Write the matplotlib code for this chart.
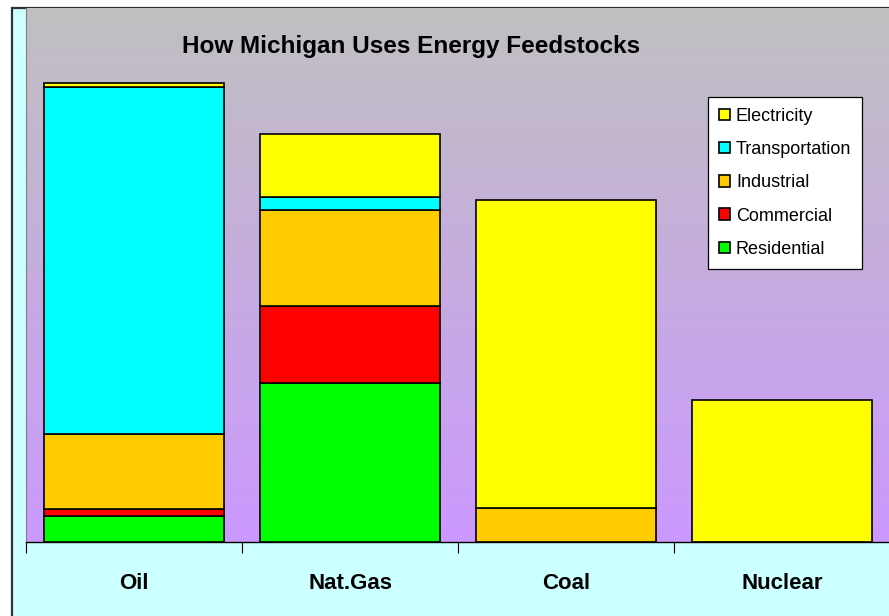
import numpy as np
import matplotlib.pyplot as plt
from matplotlib.patches import Rectangle

plt.rcParams['font.family'] = ['Liberation Sans', 'DejaVu Sans']

# --- data (trillion Btu) ---
feedstocks = ["Oil", "Nat.Gas", "Coal", "Nuclear"]
sectors = ["Residential", "Commercial", "Industrial", "Transportation", "Electricity"]
residential = [58, 357, 0, 0]
commercial = [16, 174, 0, 0]
industrial = [169, 216, 77, 0]
transportation = [780, 28, 0, 0]
electricity = [9, 142, 691, 318]
y_max = 1200

colors = {
    "Residential": "#00FF00",
    "Commercial": "#FF0000",
    "Industrial": "#FFCC00",
    "Transportation": "#00FFFF",
    "Electricity": "#FFFF00",
}

W, H = 889, 616
fig = plt.figure(figsize=(W / 100, H / 100), dpi=100)
fig.patch.set_facecolor("white")

# chart area (light cyan with dark border, runs off the right/bottom edge)
fig.patches.append(Rectangle((12 / W, -0.05), 1.1, (H - 8) / H + 0.05,
                             transform=fig.transFigure, facecolor="#CCFFFF",
                             edgecolor="#333333", linewidth=1.6, zorder=-5))

ax = fig.add_axes([26 / W, (H - 542) / H, (890 - 26) / W, (542 - 8) / H])
ax.set_zorder(1)
ax.set_xlim(-0.5, 3.5)
ax.set_ylim(0, y_max)

# plot-area gradient: grey at top -> lavender at bottom
top = np.array([192, 192, 192]) / 255
bot = np.array([204, 153, 255]) / 255
t = np.linspace(0, 1, 256)[:, None]
grad = (top * (1 - t) + bot * t)[:, None, :]
ax.imshow(grad, extent=[-0.5, 3.5, 0, y_max], aspect="auto", zorder=0,
          interpolation="bilinear")

x = np.arange(len(feedstocks))
width = 180 / 216
series = [residential, commercial, industrial, transportation, electricity]
bottom = np.zeros(len(feedstocks))
handles = {}
for name, vals in zip(sectors, series):
    vals = np.array(vals, dtype=float)
    mask = vals > 0
    b = ax.bar(x[mask], vals[mask], width, bottom=bottom[mask], color=colors[name],
               edgecolor="black", linewidth=1.2, zorder=2, label=name)
    handles[name] = b
    bottom += vals

ax.set_yticks([])
ax.set_xticks(x)
ax.set_xticklabels(feedstocks, fontsize=16, fontweight="bold")
ax.tick_params(axis="x", which="major", length=0, pad=22)
ax.set_xticks(np.arange(-0.5, 4.0, 1.0), minor=True)
ax.tick_params(axis="x", which="minor", length=8, width=0.8, direction="out")
for s in ["top", "right"]:
    ax.spines[s].set_visible(False)
ax.spines["left"].set_color("#808080")
ax.spines["left"].set_linewidth(0.8)
ax.spines["bottom"].set_color("black")
ax.spines["bottom"].set_linewidth(1.0)

fig.text(411 / W, 1 - 46 / H, "How Michigan Uses Energy Feedstocks",
         ha="center", va="center", fontsize=17.5, fontweight="bold", zorder=5)

order = ["Electricity", "Transportation", "Industrial", "Commercial", "Residential"]
leg = ax.legend([handles[n] for n in order], order, loc="upper left",
                bbox_to_anchor=(708 / W, 1 - 97 / H), bbox_transform=fig.transFigure,
                fontsize=13, frameon=True, fancybox=False, framealpha=1,
                edgecolor="black", handlelength=0.6, handleheight=0.6,
                handletextpad=0.35, labelspacing=0.9, borderpad=0.6,
                borderaxespad=0)
leg.get_frame().set_linewidth(0.9)

plt.savefig("out.png", dpi=100)
